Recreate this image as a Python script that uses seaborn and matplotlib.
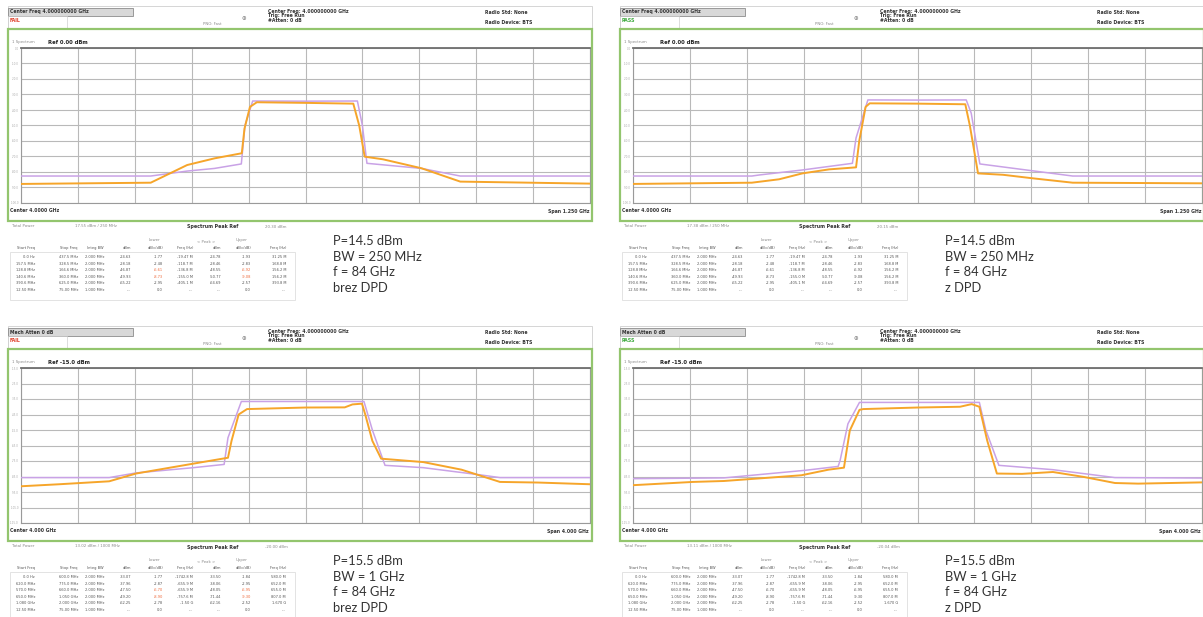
import matplotlib
matplotlib.use("Agg")
import matplotlib.pyplot as plt
from matplotlib.patches import Rectangle
import numpy as np
import seaborn as sns

W, H = 1203, 617

# traces: offset from the 4 GHz centre (MHz) and level (dBm)
# 250 MHz, without DPD
N250_PURPLE_F = [-625, -340, -260, -200, -141, -133, -116, 0, 114, 125, 135, 255, 340, 625]
N250_PURPLE_DBM = [-82.6, -82.6, -79.4, -77.7, -74.8, -50.0, -34.2, -34.3, -34.2, -50.0, -74.4, -77.7, -82.6, -82.6]
N250_ORANGE_F = [-625, -340, -260, -200, -140, -134, -122, -107, 0, 105, 118, 130, 170, 255, 340, 625]
N250_ORANGE_DBM = [-87.7, -86.9, -75.5, -71.2, -67.9, -52.0, -38.0, -35.0, -35.4, -35.9, -50.0, -70.1, -71.8, -77.6, -86.2, -87.5]

# 250 MHz, with DPD
D250_PURPLE_F = [-625, -364, -347, -253, -143, -135, -109, 0, 107, 118, 137, 341, 625]
D250_PURPLE_DBM = [-82.6, -82.6, -81.9, -78.7, -74.4, -58.0, -33.5, -33.6, -33.5, -42.0, -74.8, -82.6, -82.6]
D250_ORANGE_F = [-625, -364, -304, -253, -194, -135, -128, -114, -105, 0, 105, 115, 133, 188, 254, 341, 625]
D250_ORANGE_DBM = [-87.7, -86.9, -84.7, -80.9, -78.3, -77.0, -60.0, -38.0, -35.7, -35.9, -36.3, -50.0, -80.9, -81.8, -84.1, -86.9, -87.3]

# 1 GHz, without DPD
N1G_PURPLE_F = [-2000, -1380, -1192, -788, -572, -545, -451, 0, 411, 470, 559, 828, 1232, 1367, 2000]
N1G_PURPLE_DBM = [-85.7, -85.7, -82.7, -79.3, -77.2, -60.0, -36.6, -36.6, -36.6, -55.0, -77.8, -79.3, -84.0, -85.7, -85.7]
N1G_ORANGE_F = [-2000, -1731, -1380, -1192, -788, -545, -520, -470, -411, 0, 276, 330, 397, 420, 470, 532,
                828, 1097, 1367, 1636, 2000]
N1G_ORANGE_DBM = [-91.3, -90.0, -88.1, -83.1, -76.7, -72.9, -62.0, -45.0, -41.5, -40.5, -40.4, -38.5, -38.0, -45.0,
                  -62.0, -73.5, -75.7, -80.6, -88.5, -88.9, -90.0]

# 1 GHz, with DPD
D1G_PURPLE_F = [-2000, -1361, -1034, -789, -558, -544, -489, -408, 0, 435, 480, 572, 952, 1388, 2000]
D1G_PURPLE_DBM = [-86.4, -85.9, -83.1, -81.0, -78.5, -74.6, -51.0, -37.2, -37.2, -37.2, -55.0, -77.8, -80.6, -85.7, -86.0]
D1G_ORANGE_F = [-2000, -1578, -1361, -1034, -816, -626, -517, -476, -408, -381, 0, 299, 381, 435, 490, 558,
                735, 952, 1170, 1388, 1551, 2000]
D1G_ORANGE_DBM = [-90.6, -88.5, -87.9, -85.7, -84.2, -80.6, -79.3, -55.4, -42.0, -41.5, -40.5, -40.0, -38.3, -40.0,
                  -61.8, -83.1, -83.3, -82.1, -85.3, -89.2, -89.6, -88.8]

NOTE_N250 = ["P=14.5 dBm", "BW = 250 MHz", "f = 84 GHz", "brez DPD"]
NOTE_D250 = ["P=14.5 dBm", "BW = 250 MHz", "f = 84 GHz", "z DPD"]
NOTE_N1G = ["P=15.5 dBm", "BW = 1 GHz", "f = 84 GHz", "brez DPD"]
NOTE_D1G = ["P=15.5 dBm", "BW = 1 GHz", "f = 84 GHz", "z DPD"]

TABLE_HEAD = ["Start Freq", "Stop Freq", "Integ BW", "dBm", "dB(c/dB)", "Freq (Hz)", "dBm", "dB(c/dB)", "Freq (Hz)"]
TABLE_250 = [
    ["0.0 Hz", "437.5 MHz", "2.000 MHz", "-24.63", "-1.77", "-19.47 M", "-24.78", "-1.93", "31.25 M"],
    ["157.5 MHz", "328.5 MHz", "2.000 MHz", "-28.18", "-2.48", "-118.7 M", "-28.46", "-2.83", "168.8 M"],
    ["128.8 MHz", "166.6 MHz", "2.000 MHz", "-46.87", "-6.61", "-136.8 M", "-48.55", "-6.92", "156.2 M"],
    ["140.6 MHz", "360.0 MHz", "2.000 MHz", "-49.93", "-8.73", "-155.0 M", "-50.77", "-9.08", "156.2 M"],
    ["390.6 MHz", "625.0 MHz", "2.000 MHz", "-65.22", "-2.95", "-405.1 M", "-64.69", "-2.57", "393.8 M"],
    ["12.50 MHz", "75.00 MHz", "1.000 MHz", "---", "0.0", "---", "---", "0.0", "---"],
]
TABLE_1G = [
    ["0.0 Hz", "600.0 MHz", "2.000 MHz", "-33.07", "-1.77", "-1742.8 M", "-33.50", "-1.84", "580.0 M"],
    ["620.0 MHz", "775.0 MHz", "2.000 MHz", "-37.96", "-2.87", "-655.9 M", "-38.06", "-2.95", "652.0 M"],
    ["570.0 MHz", "660.0 MHz", "2.000 MHz", "-47.50", "-6.70", "-655.9 M", "-48.05", "-6.95", "655.0 M"],
    ["650.0 MHz", "1.050 GHz", "2.000 MHz", "-49.20", "-8.90", "-757.6 M", "-71.44", "-9.30", "807.0 M"],
    ["1.080 GHz", "2.000 GHz", "2.000 MHz", "-62.25", "-2.78", "-1.50 G", "-62.16", "-2.52", "1.670 G"],
    ["12.50 MHz", "75.00 MHz", "1.000 MHz", "---", "0.0", "---", "---", "0.0", "---"],
]

PANELS = [
    dict(ox=0, oy=0, span=1250, ref=0.0, head="Center Freq 4.000000000 GHz", status="FAIL",
         purple=(N250_PURPLE_F, N250_PURPLE_DBM), orange=(N250_ORANGE_F, N250_ORANGE_DBM),
         note=NOTE_N250, table=TABLE_250, power="17.55 dBm / 250 MHz", peak="20.30 dBm"),
    dict(ox=612, oy=0, span=1250, ref=0.0, head="Center Freq 4.000000000 GHz", status="PASS",
         purple=(D250_PURPLE_F, D250_PURPLE_DBM), orange=(D250_ORANGE_F, D250_ORANGE_DBM),
         note=NOTE_D250, table=TABLE_250, power="17.38 dBm / 250 MHz", peak="20.15 dBm"),
    dict(ox=0, oy=320, span=4000, ref=-15.0, head="Mech Atten 0 dB", status="FAIL",
         purple=(N1G_PURPLE_F, N1G_PURPLE_DBM), orange=(N1G_ORANGE_F, N1G_ORANGE_DBM),
         note=NOTE_N1G, table=TABLE_1G, power="13.02 dBm / 1000 MHz", peak="-20.00 dBm"),
    dict(ox=612, oy=320, span=4000, ref=-15.0, head="Mech Atten 0 dB", status="PASS",
         purple=(D1G_PURPLE_F, D1G_PURPLE_DBM), orange=(D1G_ORANGE_F, D1G_ORANGE_DBM),
         note=NOTE_D1G, table=TABLE_1G, power="13.11 dBm / 1000 MHz", peak="-20.04 dBm"),
]

PURPLE = "#c9a2e6"
ORANGE = "#f6a52a"
GREEN = "#93c56e"

sns.set_style("white")
plt.rcParams["font.family"] = ["DejaVu Sans"]

fig = plt.figure(figsize=(W / 100, H / 100), dpi=100)
fig.patch.set_facecolor("white")


def fx(x):
    return x / W


def fy(y):
    return 1 - y / H


def txt(x, y, s, **kw):
    kw.setdefault("va", "center")
    fig.text(fx(x), fy(y), s, **kw)


def box(x0, y0, x1, y1, **kw):
    fig.add_artist(Rectangle((fx(x0), fy(y1)), (x1 - x0) / W, (y1 - y0) / H,
                             transform=fig.transFigure, **kw))


tiny = dict(fontsize=3.3, weight="bold", color="#333333")
faint = dict(fontsize=2.8, color="#8a8a8a")

for p in PANELS:
    ox, oy = p["ox"], p["oy"]

    # instrument header
    box(ox + 8, oy + 6, ox + 592, oy + 29, fc="white", ec="#cfcfcf", lw=0.6)
    box(ox + 8, oy + 8, ox + 133, oy + 16, fc="#d8d8d8", ec="#8c8c8c", lw=0.6)
    box(ox + 8, oy + 16, ox + 67, oy + 29, fc="none", ec="#cfcfcf", lw=0.5)
    txt(ox + 10, oy + 12, p["head"], **tiny)
    stat_col = "#e0402a" if p["status"] == "FAIL" else "#3faa3f"
    txt(ox + 10, oy + 21, p["status"], fontsize=3.4, weight="bold", color=stat_col)
    txt(ox + 203, oy + 24, "PNO: Fast", **faint)
    txt(ox + 242, oy + 19, "⊕", fontsize=4, color="#777777")
    txt(ox + 268, oy + 11, "Center Freq: 4.000000000 GHz", **tiny)
    txt(ox + 268, oy + 16, "Trig: Free Run", **tiny)
    txt(ox + 268, oy + 21, "#Atten: 0 dB", **tiny)
    txt(ox + 485, oy + 12, "Radio Std: None", **tiny)
    txt(ox + 485, oy + 23, "Radio Device: BTS", **tiny)

    # green measurement frame
    box(ox + 8, oy + 29, ox + 592, oy + 221, fc="none", ec=GREEN, lw=1.6, zorder=5)
    txt(ox + 12, oy + 42, "1 Spectrum", **faint)
    ref_txt = "Ref 0.00 dBm" if p["ref"] == 0 else "Ref %.1f dBm" % p["ref"]
    txt(ox + 48, oy + 42, ref_txt, fontsize=3.8, weight="bold", color="#222222")

    ax = fig.add_axes([fx(ox + 21), fy(oy + 203), 569 / W, 155 / H])
    half = p["span"] / 2
    sns.lineplot(x=p["purple"][0], y=p["purple"][1], ax=ax, color=PURPLE, linewidth=1.1,
                 sort=False, estimator=None, zorder=3)
    sns.lineplot(x=p["orange"][0], y=p["orange"][1], ax=ax, color=ORANGE, linewidth=1.4,
                 sort=False, estimator=None, zorder=4)
    ax.set_xlim(-half, half)
    ax.set_ylim(p["ref"] - 100, p["ref"])
    ax.set_xticks(np.linspace(-half, half, 11))
    ax.set_yticks(np.linspace(p["ref"] - 100, p["ref"], 11))
    ax.set_xticklabels([])
    ax.set_yticklabels(["%.1f" % v for v in np.linspace(p["ref"] - 100, p["ref"], 11)],
                       fontsize=2, color="#aaaaaa")
    ax.tick_params(length=0, pad=1.5)
    ax.grid(True, color="#b9b9b9", linewidth=0.8)
    ax.set_xlabel("")
    ax.set_ylabel("")
    for side, sp in ax.spines.items():
        sp.set_color("#9a9a9a")
        sp.set_linewidth(0.8)
    ax.spines["top"].set_color("#6e6e6e")
    ax.spines["top"].set_linewidth(1.3)

    span_txt = "Span 1.250 GHz" if p["span"] == 1250 else "Span 4.000 GHz"
    cen_txt = "Center 4.0000 GHz" if p["span"] == 1250 else "Center 4.000 GHz"
    txt(ox + 10, oy + 211, cen_txt, **tiny)
    txt(ox + 589, oy + 211, span_txt, ha="right", **tiny)

    # ACP table
    txt(ox + 12, oy + 226, "Total Power", **faint)
    txt(ox + 75, oy + 226, p["power"], **faint)
    txt(ox + 187, oy + 227, "Spectrum Peak Ref", fontsize=3.4, weight="bold", color="#333333")
    txt(ox + 265, oy + 227, p["peak"], **faint)
    col_x = [35, 78, 104, 131, 163, 193, 221, 251, 286]
    txt(ox + 160, oy + 240, "Lower", ha="right", **faint)
    txt(ox + 215, oy + 242, "< Peak >", ha="right", **faint)
    txt(ox + 248, oy + 240, "Upper", ha="right", **faint)
    for cx, lab in zip(col_x, TABLE_HEAD):
        txt(ox + cx, oy + 248, lab, ha="right", fontsize=2.6, color="#555555")
    box(ox + 10, oy + 252, ox + 295, oy + 300, fc="none", ec="#d8d8d8", lw=0.5)
    for r, row in enumerate(p["table"]):
        ry = oy + 257 + r * 6.6
        for c, (cx, val) in enumerate(zip(col_x, row)):
            col = "#555555"
            if p["status"] == "FAIL" and r in (2, 3) and c in (4, 7):
                col = "#ee6a3c"
            txt(ox + cx, ry, val, ha="right", fontsize=2.6, color=col)

    # annotation
    for i, line in enumerate(p["note"]):
        txt(ox + 333, oy + 241 + i * 15.6, line, fontsize=9.3, color="#333333",
            family=["Lato", "DejaVu Sans"])

fig.savefig("out.png", dpi=100, facecolor="white")
